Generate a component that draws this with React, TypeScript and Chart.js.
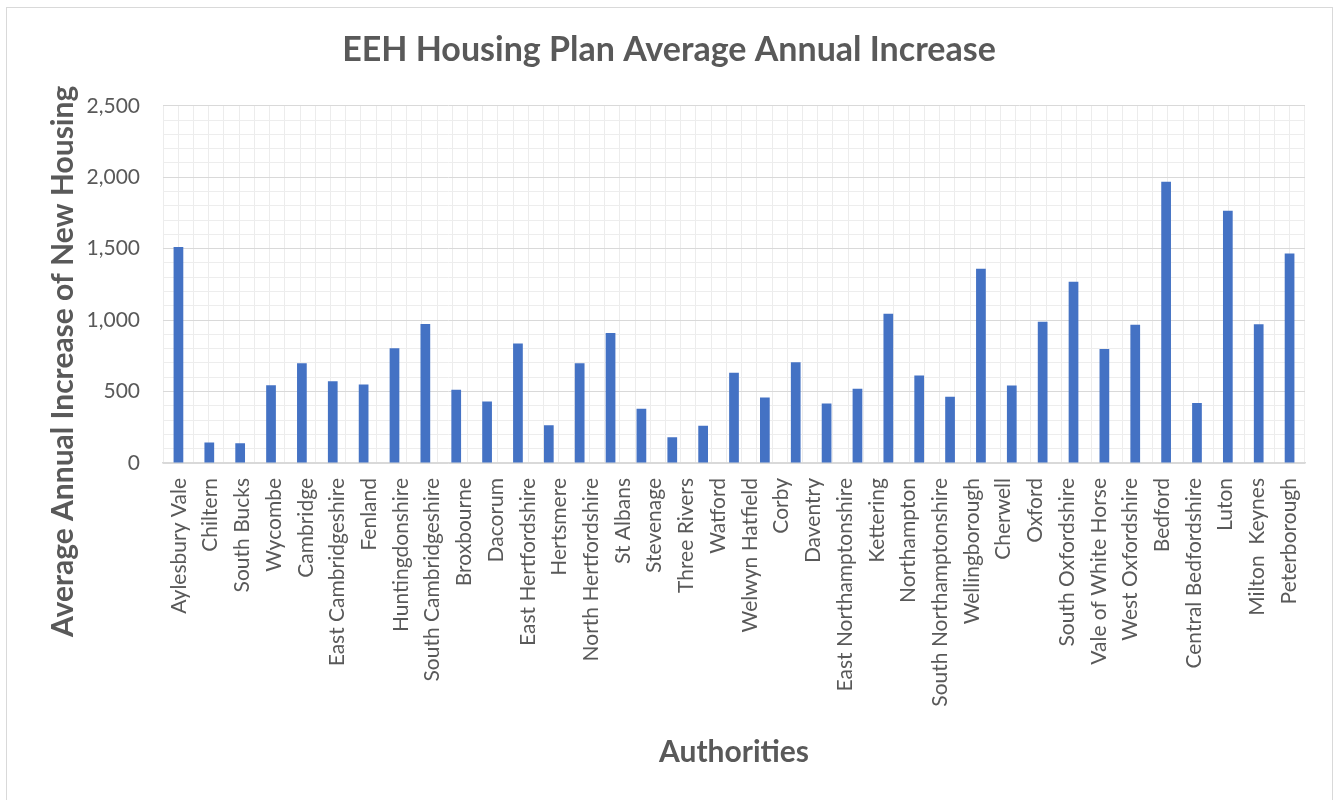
import React, { useEffect, useRef } from "react";
import { Chart, registerables } from "chart.js";

Chart.register(...registerables);

const chartTitle = "EEH Housing Plan Average Annual Increase";
const yTitle = "Average Annual Increase of New Housing";
const xTitle = "Authorities";

// Category tick labels as printed under the axis
const authorities = [
  "Aylesbury Vale", "Chiltern", "South Bucks", "Wycombe", "Cambridge",
  "East Cambridgeshire", "Fenland", "Huntingdonshire", "South Cambridgeshire",
  "Broxbourne", "Dacorum", "East Hertfordshire", "Hertsmere", "North Hertfordshire",
  "St Albans", "Stevenage", "Three Rivers", "Watford", "Welwyn Hatfield", "Corby",
  "Daventry", "East Northamptonshire", "Kettering", "Northampton",
  "South Northamptonshire", "Wellingborough", "Cherwell", "Oxford",
  "South Oxfordshire", "Vale of White Horse", "West Oxfordshire", "Bedford",
  "Central Bedfordshire", "Luton", "Milton  Keynes", "Peterborough",
];

// Bar values as drawn (the plot holds 37 bar slots)
const housingValues = [
  1512, 143, 138, 544, 698, 572, 549, 803, 973, 512,
  430, 836, 264, 698, 910, 379, 180, 260, 631, 458,
  705, 416, 519, 1045, 612, 463, 1360, 542, 988, 1268,
  797, 968, 1968, 420, 1766, 971, 1467,
];
const barSlots = housingValues.map((_, i) => String(i + 1));

const yTicks = [0, 500, 1000, 1500, 2000, 2500];

const TEXT = "#595959";
const FONT = "Lato, 'Open Sans', sans-serif";

const yTitlePlugin = {
  id: "yTitleAt",
  afterDraw(chart: any) {
    const ctx = chart.ctx;
    const area = chart.chartArea;
    ctx.save();
    ctx.translate(63, (area.top + area.bottom) / 2 + 77);
    ctx.rotate(-Math.PI / 2);
    ctx.font = `bold 30px ${FONT}`;
    ctx.fillStyle = TEXT;
    ctx.textAlign = "center";
    ctx.textBaseline = "middle";
    ctx.fillText(yTitle, 0, 0);
    ctx.restore();
  },
};

export default function App() {
  const ref = useRef<HTMLCanvasElement | null>(null);

  useEffect(() => {
    document.body.style.margin = "0";
    const canvas = ref.current;
    if (!canvas) return;
    const chart = new Chart(canvas, {
      type: "bar",
      data: {
        labels: barSlots,
        datasets: [
          {
            label: "Average annual increase",
            data: housingValues,
            backgroundColor: "#4472C4",
            borderWidth: 0,
            barPercentage: 0.315,
            categoryPercentage: 1,
            xAxisID: "x",
            yAxisID: "y",
          },
        ],
      },
      options: {
        responsive: false,
        animation: false,
        devicePixelRatio: 1,
        layout: { padding: { left: 0, right: 0, top: 0, bottom: 0 } },
        plugins: {
          legend: { display: false },
          tooltip: { enabled: false },
          title: {
            display: true,
            text: chartTitle,
            color: TEXT,
            font: { family: FONT, size: 34, weight: "bold" },
            padding: { top: 30, bottom: 35 },
          },
        },
        scales: {
          x: {
            type: "category",
            display: false,
            offset: true,
          },
          xg: {
            type: "linear",
            position: "bottom",
            min: 0,
            max: 74,
            grid: { color: "#ececec", lineWidth: 1, drawTicks: false },
            border: { display: false },
            ticks: { display: false, stepSize: 1, autoSkip: false },
            afterFit: (s: any) => {
              s.height = 0;
            },
          },
          xl: {
            type: "category",
            position: "bottom",
            labels: authorities,
            offset: true,
            grid: { display: false, drawTicks: false },
            border: { display: true, color: "#d9d9d9", width: 1.5 },
            ticks: {
              autoSkip: false,
              minRotation: 90,
              maxRotation: 90,
              color: TEXT,
              padding: 15,
              font: { family: FONT, size: 21 },
            },
            title: {
              display: true,
              text: xTitle,
              color: TEXT,
              font: { family: FONT, size: 30, weight: "bold" },
              padding: { top: 0, bottom: 30 },
            },
            afterFit: (s: any) => {
              s.height = 800 - 463;
            },
          },
          y: {
            type: "linear",
            position: "left",
            min: 0,
            max: 2500,
            grid: {
              drawTicks: false,
              lineWidth: 1,
              color: (ctx: any) =>
                ctx.tick && yTicks.includes(ctx.tick.value) ? "#d9d9d9" : "#ededed",
            },
            border: { display: false },
            ticks: {
              stepSize: 100,
              autoSkip: false,
              padding: 23,
              color: TEXT,
              font: { family: FONT, size: 21 },
              callback: (v: any) =>
                yTicks.includes(Number(v)) ? Number(v).toLocaleString("en-US") : "",
            },
            afterFit: (s: any) => {
              s.width = 163;
            },
          },
          yr: {
            type: "linear",
            position: "right",
            min: 0,
            max: 2500,
            grid: { display: false, drawTicks: false },
            border: { display: false },
            ticks: { display: false },
            afterFit: (s: any) => {
              s.width = 33;
            },
          },
        },
      },
      plugins: [yTitlePlugin],
    });
    return () => chart.destroy();
  }, []);

  return (
    <div style={{ position: "fixed", left: 0, top: 0, width: 1338, height: 800, background: "#fff", overflow: "hidden" }}>
      <div
        style={{
          position: "absolute",
          left: 6,
          top: 7,
          width: 1327,
          height: 820,
          border: "1px solid #d9d9d9",
          boxSizing: "border-box",
        }}
      />
      <canvas
        ref={ref}
        width={1338}
        height={800}
        style={{ position: "absolute", left: 0, top: 0, width: 1338, height: 800 }}
      />
    </div>
  );
}
